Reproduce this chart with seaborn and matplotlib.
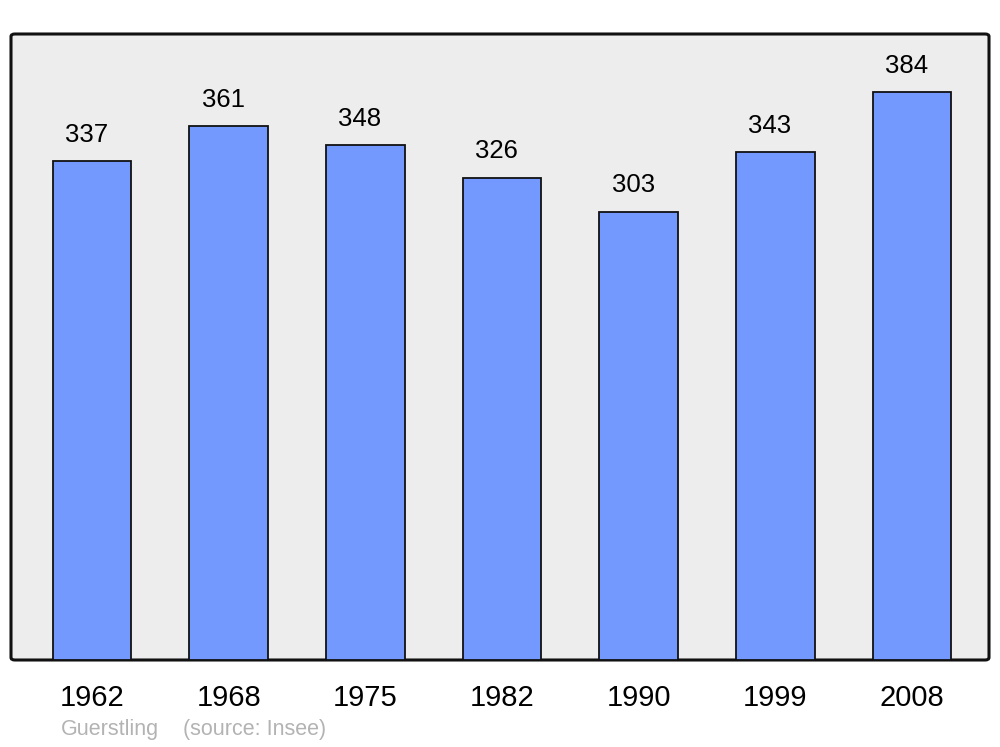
import numpy as np
import pandas as pd
import seaborn as sns
import matplotlib.pyplot as plt
from matplotlib.patches import FancyBboxPatch

sns.set_style('white')
plt.rcParams['font.family'] = ['Liberation Sans', 'DejaVu Sans']

years = ['1962', '1968', '1975', '1982', '1990', '1999', '2008']
population = [337, 361, 348, 326, 303, 343, 384]

df = pd.DataFrame({'year': years, 'pop': population})

fig = plt.figure(figsize=(10, 7.47), dpi=100)
ax = fig.add_axes([0.011, 87 / 747, 0.978, 626 / 747])
ax.set_facecolor('none')

# rounded frame behind the bars
frame = FancyBboxPatch((0, 0), 1, 1, boxstyle='round,pad=0,rounding_size=0.004',
                       transform=ax.transAxes, facecolor='#ededed',
                       edgecolor='#111111', linewidth=2.2, clip_on=False, zorder=0)
ax.add_patch(frame)

sns.barplot(data=df, x='year', y='pop', color='#7399ff', saturation=1,
            width=0.575, edgecolor='#111111', linewidth=1.3, ax=ax, zorder=2)

for i, v in enumerate(population):
    ax.annotate(str(v), (i, v), xytext=(-4, 18.8), textcoords='offset points',
                ha='center', va='center', fontsize=18.5, color='black')

ax.set_xlim(-0.593, 6.563)
ax.set_ylim(0, 423)
for s in ax.spines.values():
    s.set_visible(False)
ax.set_yticks([])
ax.set_xlabel('')
ax.set_ylabel('')
ax.tick_params(axis='x', length=0, pad=17, labelsize=21, labelcolor='black')

fig.text(0.061, 1 - 730 / 747, 'Guerstling', fontsize=15.5,
         color='#b3b3b3', ha='left', va='center')
fig.text(0.183, 1 - 730 / 747, '(source: Insee)', fontsize=15.5,
         color='#b3b3b3', ha='left', va='center')

fig.savefig('out.png', dpi=100)
